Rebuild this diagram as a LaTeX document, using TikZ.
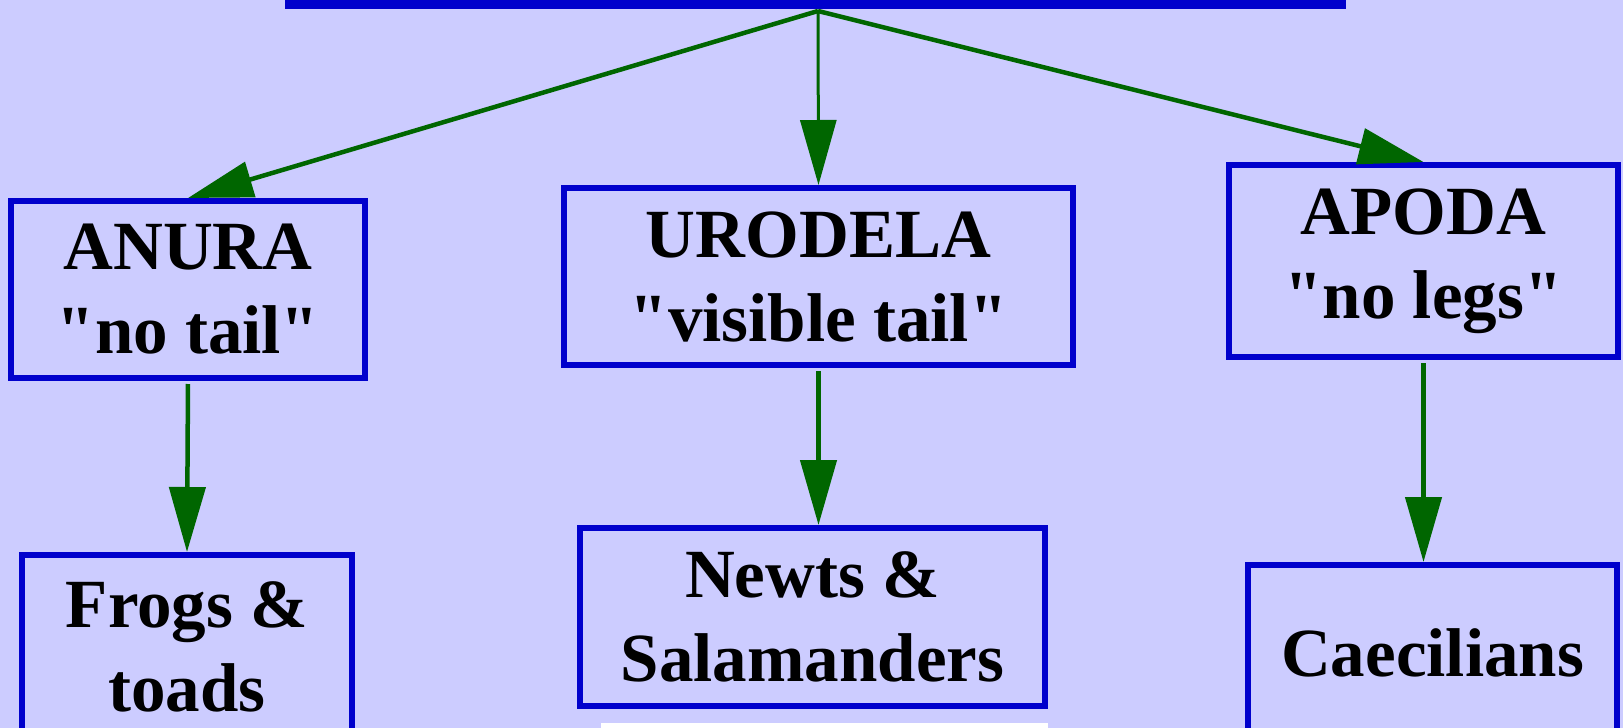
\documentclass[tikz,border=0pt]{standalone}
\usepackage{fontspec}
\setmainfont{Liberation Serif}
\usetikzlibrary{arrows.meta}
\definecolor{bg}{HTML}{CCCCFF}
\definecolor{boxblue}{HTML}{0000CC}
\definecolor{arrgreen}{HTML}{006600}
\newcommand{\qq}{\textquotedbl}
\begin{document}
\begin{tikzpicture}[x=1pt,y=-1pt,
  box/.style={draw=boxblue, line width=6pt, inner sep=0pt, align=center,
    font=\fontsize{69}{84}\selectfont\bfseries},
  arr/.style={draw=arrgreen, line width=4.5pt, shorten <=3pt,
    -{Triangle[length=65pt,width=36pt]}}]
\clip (0,0) rectangle (1623,728);
\fill[bg] (0,0) rectangle (1623,728);
\node[fill=boxblue, minimum width=1061pt, minimum height=18pt, inner sep=0pt] (title) at (815.5,0) {};
\coordinate (src) at (818,11);
\node[box, minimum width=354pt, minimum height=177pt] (anura) at (188,289.5) {ANURA\\\qq no tail\qq};
\node[box, minimum width=509pt, minimum height=177pt] (urodela) at (818.5,276.5) {URODELA\\\qq visible tail\qq};
\node[box, minimum width=389pt, minimum height=192pt] (apoda) at (1423.5,261) {APODA\\\qq no legs\qq};
\node[box, minimum width=330pt, minimum height=184pt] (frogs) at (187,647) {Frogs \&\\toads};
\node[box, minimum width=465pt, minimum height=178pt] (newts) at (812.5,617) {Newts \&\\Salamanders};
\node[box, minimum width=369pt, minimum height=176pt] (caec) at (1432.5,653) {Caecilians};
\fill[white] (601,723) rectangle (1048,728);
\draw[arr, shorten <=0pt] (src) -- (anura.north);
\draw[arr, shorten <=0pt, line width=3pt] (src) -- (urodela.north);
\draw[arr, shorten <=0pt] (src) -- (apoda.north);
\draw[arr] (anura.south) -- (frogs.north);
\draw[arr] (urodela.south) -- (urodela.south |- newts.north);
\draw[arr] (apoda.south) -- (apoda.south |- caec.north);
\end{tikzpicture}
\end{document}
